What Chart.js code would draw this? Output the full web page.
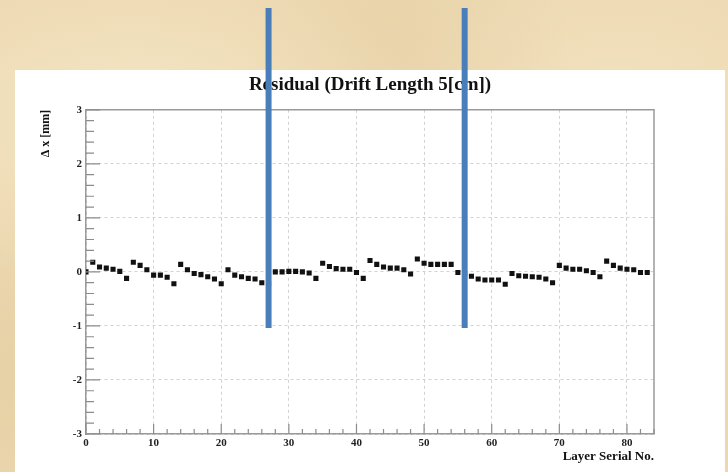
<!DOCTYPE html>
<html>
<head>
<meta charset="utf-8">
<script src="https://cdn.jsdelivr.net/npm/chart.js@4.4.0/dist/chart.umd.min.js"></script>
<style>
    html, body { margin: 0; padding: 0; }
    body {
        width: 728px;
        height: 472px;
        overflow: hidden;
        background:
            radial-gradient(ellipse at 18% 25%, rgba(250, 238, 210, 0.6), transparent 35%),
            radial-gradient(ellipse at 55% 10%, rgba(225, 200, 155, 0.3), transparent 30%),
            radial-gradient(ellipse at 85% 20%, rgba(248, 234, 205, 0.5), transparent 30%),
            radial-gradient(ellipse at 5% 80%, rgba(225, 200, 155, 0.5), transparent 30%),
            #ecd8b0;
    }
    canvas { display: block; }
</style>
</head>
<body>
<canvas id="residual-chart" width="728" height="472"></canvas>
<script>
// layer serial numbers 0..83 (one point per layer)
const layerNo = Array.from({ length: 84 }, (_, i) => i);

// residual per layer [mm]
const residual = [
    0.00, 0.18, 0.09, 0.07, 0.05, 0.01, -0.12,
    0.18, 0.12, 0.04, -0.06, -0.06, -0.10, -0.22,
    0.14, 0.04, -0.03, -0.05, -0.09, -0.13, -0.22,
    0.04, -0.06, -0.09, -0.12, -0.13, -0.20, -0.22,
    0.00, 0.00, 0.01, 0.01, 0.00, -0.02, -0.12,
    0.16, 0.10, 0.06, 0.05, 0.05, -0.01, -0.12,
    0.21, 0.14, 0.09, 0.07, 0.07, 0.04, -0.04,
    0.24, 0.16, 0.14, 0.14, 0.14, 0.14, -0.01,
    -0.03, -0.08, -0.13, -0.15, -0.15, -0.15, -0.23,
    -0.03, -0.07, -0.08, -0.09, -0.10, -0.13, -0.20,
    0.12, 0.07, 0.05, 0.05, 0.02, -0.01, -0.09,
    0.20, 0.12, 0.07, 0.05, 0.04, -0.01, -0.01
];

const xTicks = [0, 10, 20, 30, 40, 50, 60, 70, 80];
const yTicks = [-3, -2, -1, 0, 1, 2, 3];

// the two blue marker lines sit on these layers
const markerLayers = [27, 56];
const markerBottom = -1.04;

const serif = 'Liberation Serif, Times New Roman, serif';

// white slide panel behind the plot
const panelPlugin = {
    id: 'panel',
    beforeDraw(chart) {
        const ctx = chart.ctx;
        ctx.save();
        ctx.fillStyle = '#ffffff';
        ctx.fillRect(15, 70, 710, 402);
        ctx.restore();
    }
};

// ROOT style frame + inner tick marks, then the blue markers on top
const frameTicksPlugin = {
    id: 'frameTicks',
    afterDatasetsDraw(chart) {
        const { ctx, chartArea: a } = chart;
        const xs = chart.scales.x;
        const ys = chart.scales.y;
        ctx.save();
        ctx.strokeStyle = '#9a9a9a';
        ctx.lineWidth = 1.5;
        ctx.beginPath();
        ctx.moveTo(a.left, a.top);
        ctx.lineTo(a.right, a.top);
        ctx.lineTo(a.right, a.bottom);
        ctx.stroke();

        ctx.strokeStyle = '#8c8c8c';
        ctx.lineWidth = 1.2;
        ctx.beginPath();
        for (let v = 0; v <= 84; v += 2) {
            const px = xs.getPixelForValue(v);
            const len = v % 10 === 0 ? 10 : 5;
            ctx.moveTo(px, a.bottom);
            ctx.lineTo(px, a.bottom - len);
        }
        for (let k = -15; k <= 15; k++) {
            const py = ys.getPixelForValue(k / 5);
            const len = k % 5 === 0 ? 14 : 8;
            ctx.moveTo(a.left, py);
            ctx.lineTo(a.left + len, py);
        }
        ctx.stroke();
        ctx.restore();
    },
    afterDraw(chart) {
        const ctx = chart.ctx;
        const xs = chart.scales.x;
        const ys = chart.scales.y;
        ctx.save();
        ctx.strokeStyle = '#4a7ebb';
        ctx.lineWidth = 6;
        markerLayers.forEach(layer => {
            const px = xs.getPixelForValue(layer);
            ctx.beginPath();
            ctx.moveTo(px, 8);
            ctx.lineTo(px, ys.getPixelForValue(markerBottom));
            ctx.stroke();
        });
        ctx.restore();
    }
};

const ctx = document.getElementById('residual-chart').getContext('2d');
new Chart(ctx, {
    type: 'scatter',
    data: {
        datasets: [{
            label: 'Residual',
            data: layerNo.map((n, i) => ({ x: n, y: residual[i] })),
            pointStyle: 'rect',
            pointRadius: 3.6,
            pointBackgroundColor: '#111111',
            pointBorderWidth: 0,
            showLine: false
        }]
    },
    options: {
        responsive: false,
        animation: false,
        layout: {
            padding: { left: 30, right: 74, top: 70, bottom: 0 }
        },
        plugins: {
            legend: { display: false },
            tooltip: { enabled: false },
            title: {
                display: true,
                text: 'Residual (Drift Length 5[cm])',
                fullSize: false,
                color: '#111',
                font: { family: serif, size: 19, weight: 'bold' },
                padding: { top: 4, bottom: 13 }
            }
        },
        scales: {
            x: {
                type: 'linear',
                min: 0,
                max: 84,
                afterBuildTicks: s => { s.ticks = xTicks.map(v => ({ value: v })); },
                afterFit: s => { s.height = 38; },
                grid: { color: '#d2d2d2', lineWidth: 1, drawTicks: false },
                border: { color: '#9a9a9a', width: 1.5, dash: [3, 3] },
                ticks: {
                    color: '#222',
                    padding: 3,
                    maxRotation: 0,
                    font: { family: serif, size: 11, weight: 'bold' }
                },
                title: {
                    display: true,
                    text: 'Layer Serial No.',
                    align: 'end',
                    color: '#111',
                    font: { family: serif, size: 13, weight: 'bold' },
                    padding: { top: 0, bottom: 8 }
                }
            },
            y: {
                min: -3,
                max: 3,
                afterBuildTicks: s => { s.ticks = yTicks.map(v => ({ value: v })); },
                afterFit: s => { s.width = 56; },
                grid: { color: '#d2d2d2', lineWidth: 1, drawTicks: false },
                border: { color: '#9a9a9a', width: 1.5, dash: [3, 3] },
                ticks: {
                    color: '#222',
                    padding: 4,
                    font: { family: serif, size: 11, weight: 'bold' }
                },
                title: {
                    display: true,
                    text: 'Δ x [mm]',
                    align: 'end',
                    color: '#111',
                    font: { family: serif, size: 12, weight: 'bold' },
                    padding: { top: 9, bottom: 0 }
                }
            }
        }
    },
    plugins: [panelPlugin, frameTicksPlugin]
});
</script>
</body>
</html>
